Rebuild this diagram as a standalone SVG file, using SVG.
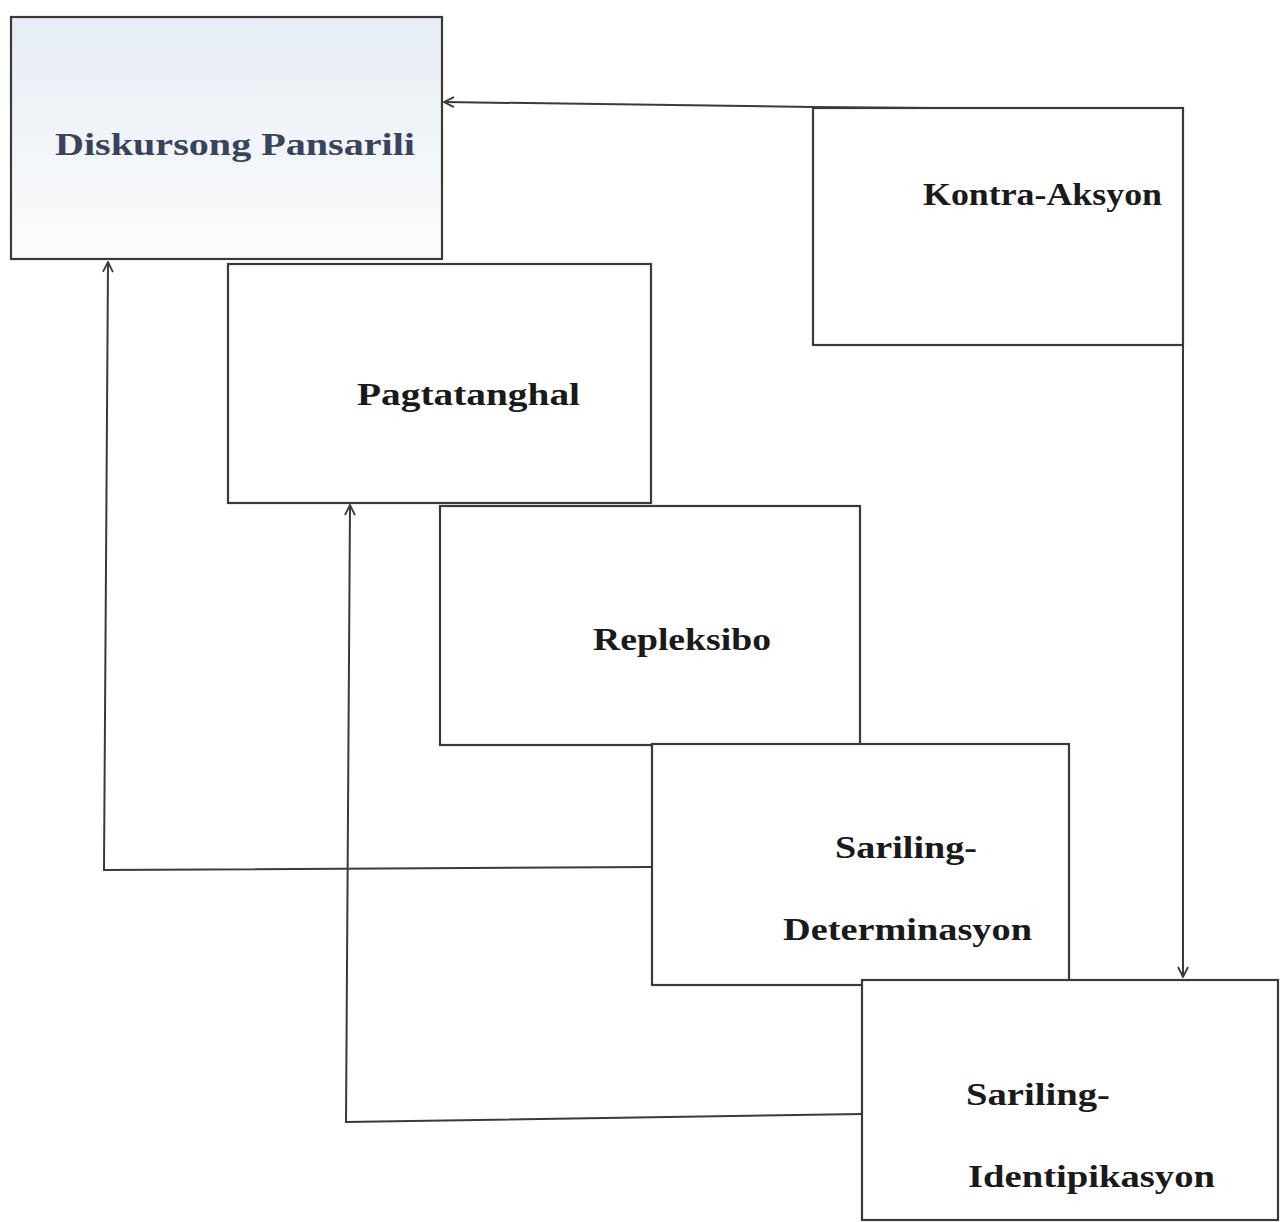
<svg xmlns="http://www.w3.org/2000/svg" width="1281" height="1222" viewBox="0 0 1281 1222">
  <style>
    .box { fill: #ffffff; stroke: #3a3a3a; stroke-width: 2.2; }
    .lbl { font-family: "Liberation Serif", "DejaVu Serif", serif; font-weight: bold; font-size: 31px; fill: #1a1a1a; }
    .conn { fill: none; stroke: #3a3a3a; stroke-width: 2; marker-end: url(#arrow); }
  </style>
  <defs>
    <linearGradient id="blueish" x1="0" y1="0" x2="0" y2="1">
      <stop offset="0" stop-color="#e6edf4"/>
      <stop offset="0.6" stop-color="#f3f6f9"/>
      <stop offset="1" stop-color="#fbfcfd"/>
    </linearGradient>
    <marker id="arrow" viewBox="0 0 12 12" refX="11" refY="6" markerWidth="12" markerHeight="12" markerUnits="userSpaceOnUse" orient="auto">
      <path d="M1,1 L11,6 L1,11" fill="none" stroke="#3a3a3a" stroke-width="1.8"/>
    </marker>
  </defs>
  <rect width="1281" height="1222" fill="#ffffff"/>

  <g id="connectors">
    <path class="conn" d="M813,107 L1183,110 L1183,977"/>
    <path class="conn" d="M813,107 L444,102"/>
    <path class="conn" d="M652,867 L104,870 L108,262"/>
    <path class="conn" d="M862,1114 L346,1122 L350,505"/>
  </g>

  <g id="node-diskursong">
    <rect x="11" y="17" width="431" height="242" fill="url(#blueish)" stroke="#3a3a3a" stroke-width="2.2"/>
    <text class="lbl" x="55" y="155" textLength="360" lengthAdjust="spacingAndGlyphs" fill="#38445c" style="fill:#38445c">Diskursong Pansarili</text>
  </g>

  <g id="node-kontra">
    <rect class="box" x="813" y="108" width="370" height="237"/>
    <text class="lbl" x="923" y="205" textLength="239" lengthAdjust="spacingAndGlyphs">Kontra-Aksyon</text>
  </g>

  <g id="node-pagtatanghal">
    <rect class="box" x="228" y="264" width="423" height="239"/>
    <text class="lbl" x="357" y="405" textLength="223" lengthAdjust="spacingAndGlyphs">Pagtatanghal</text>
  </g>

  <g id="node-repleksibo">
    <rect class="box" x="440" y="506" width="420" height="239"/>
    <text class="lbl" x="593" y="650" textLength="178" lengthAdjust="spacingAndGlyphs">Repleksibo</text>
  </g>

  <g id="node-determinasyon">
    <rect class="box" x="652" y="744" width="417" height="241"/>
    <text class="lbl" x="835" y="858" textLength="142" lengthAdjust="spacingAndGlyphs">Sariling-</text>
    <text class="lbl" x="783" y="940" textLength="249" lengthAdjust="spacingAndGlyphs">Determinasyon</text>
  </g>

  <g id="node-identipikasyon">
    <rect class="box" x="862" y="980" width="416" height="240"/>
    <text class="lbl" x="966" y="1105" textLength="144" lengthAdjust="spacingAndGlyphs">Sariling-</text>
    <text class="lbl" x="968" y="1187" textLength="247" lengthAdjust="spacingAndGlyphs">Identipikasyon</text>
  </g>
</svg>
